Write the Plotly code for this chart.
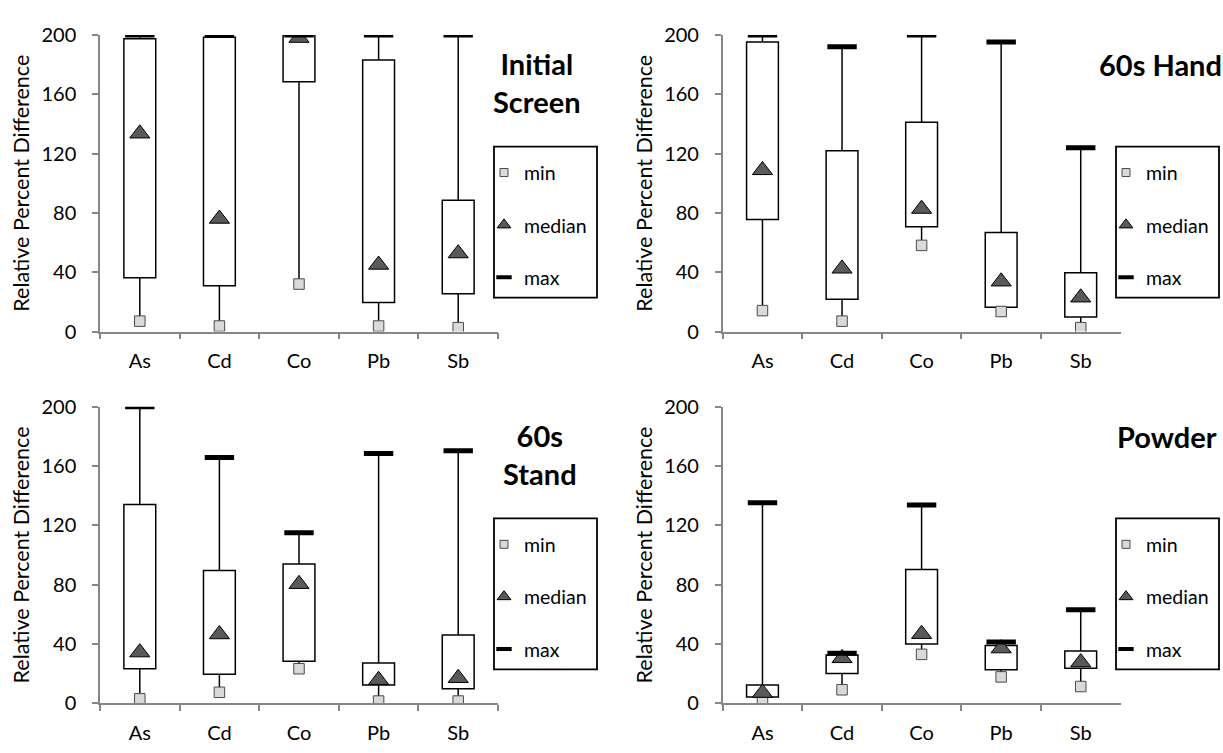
import plotly.graph_objects as go
from plotly.subplots import make_subplots

categories = ["As", "Cd", "Co", "Pb", "Sb"]
y_tick_vals = [0, 40, 80, 120, 160, 200]

panel_titles = ["Initial<br>Screen", "60s Hand", "60s<br>Stand", "Powder"]

initial_min = [7.0, 3.7, 32.0, 3.7, 2.6]
initial_q1 = [36.3, 30.9, 168.4, 19.6, 25.5]
initial_med = [133.5, 76.0, 198.0, 45.0, 52.7]
initial_q3 = [197.4, 198.5, 200.0, 183.2, 88.6]
initial_max = [200.0, 200.0, 200.0, 200.0, 200.0]

hand_min = [14.1, 7.0, 58.1, 13.5, 2.6]
hand_q1 = [75.5, 21.8, 70.7, 16.3, 9.8]
hand_med = [108.8, 42.4, 82.7, 33.7, 22.9]
hand_q3 = [195.2, 121.9, 141.2, 66.8, 39.6]
hand_max = [200.0, 192.0, 200.0, 195.2, 124.0]

stand_min = [3.0, 7.4, 23.3, 1.5, 1.5]
stand_q1 = [23.3, 19.6, 28.3, 12.4, 9.8]
stand_med = [34.3, 46.5, 80.4, 15.7, 17.0]
stand_q3 = [134.1, 89.6, 93.9, 27.2, 46.1]
stand_max = [200.0, 165.7, 115.0, 168.5, 170.4]

powder_min = [0.5, 9.1, 33.0, 17.8, 11.3]
powder_q1 = [4.3, 20.0, 40.0, 22.6, 23.7]
powder_med = [7.0, 30.4, 46.7, 37.0, 27.6]
powder_q3 = [12.4, 32.6, 90.2, 38.9, 35.2]
powder_max = [135.2, 33.7, 133.7, 41.3, 63.0]

panels = [
    (initial_min, initial_q1, initial_med, initial_q3, initial_max),
    (hand_min, hand_q1, hand_med, hand_q3, hand_max),
    (stand_min, stand_q1, stand_med, stand_q3, stand_max),
    (powder_min, powder_q1, powder_med, powder_q3, powder_max),
]

W, H = 1223, 753
FONT = "Lato"
AXIS_COLOR = "#868686"
MIN_FILL = "#d9d9d9"
MED_FILL = "#5a5a5a"

# pixel layout (left, right, top, bottom) of each plot area
plot_px = [
    (100, 498, 22.7, 329),
    (722.7, 1120.5, 22.7, 329),
    (100, 498, 406.7, 713),
    (722.7, 1120.5, 406.7, 713),
]
legend_box_px = [
    (494, 597, 138, 294),
    (1116, 1219, 138, 294),
    (494, 597, 522, 678),
    (1116, 1219, 522, 678),
]
title_px = [(537, 72), (1160, 53), (540, 456), (1167, 437)]

fig = make_subplots(rows=2, cols=2)

def px_x(v):
    return v / W

def px_y(v):
    return 1 - v / H

for i, (mn, q1, md, q3, mx) in enumerate(panels):
    r, c = i // 2 + 1, i % 2 + 1
    leg = "legend" if i == 0 else f"legend{i + 1}"
    # whiskers
    wx, wy = [], []
    for k, cat in enumerate(categories):
        wx += [cat, cat, None, cat, cat, None]
        wy += [mn[k], q1[k], None, q3[k], mx[k], None]
    fig.add_trace(go.Scatter(x=wx, y=wy, mode="lines", line=dict(color="black", width=1.5),
                             showlegend=False, hoverinfo="skip"), row=r, col=c)
    # boxes
    fig.add_trace(go.Bar(x=categories, y=[b - a for a, b in zip(q1, q3)], base=q1, width=0.4,
                         marker=dict(color="white", line=dict(color="black", width=1.5)),
                         showlegend=False), row=r, col=c)
    # markers
    fig.add_trace(go.Scatter(x=categories, y=mn, mode="markers", name="min",
                             marker=dict(symbol="square", size=10.5, color=MIN_FILL,
                                         line=dict(color="#4a4a4a", width=1)),
                             showlegend=False), row=r, col=c)
    fig.add_trace(go.Scatter(x=categories, y=md, mode="markers", name="median",
                             marker=dict(symbol="triangle-up", size=17.5, color=MED_FILL,
                                         line=dict(color="black", width=1)),
                             showlegend=False), row=r, col=c)
    fig.add_trace(go.Scatter(x=categories, y=mx, mode="markers", name="max",
                             marker=dict(symbol="line-ew", size=21,
                                         line=dict(color="black", width=5)),
                             showlegend=False), row=r, col=c)
    # legend entries
    fig.add_trace(go.Scatter(x=[None], y=[None], mode="markers", name="min", legend=leg,
                             legendgroup=f"min{i}",
                             marker=dict(symbol="square", size=8, color=MIN_FILL,
                                         line=dict(color="#4a4a4a", width=1))), row=r, col=c)
    fig.add_trace(go.Scatter(x=[None], y=[None], mode="markers", name="median", legend=leg,
                             legendgroup=f"med{i}",
                             marker=dict(symbol="triangle-up", size=12, color=MED_FILL,
                                         line=dict(color="black", width=1))), row=r, col=c)
    fig.add_trace(go.Scatter(x=[None], y=[None], mode="markers", name="max", legend=leg,
                             legendgroup=f"max{i}",
                             marker=dict(symbol="line-ew", size=11,
                                         line=dict(color="black", width=4))), row=r, col=c)

    xl, xr, yt, yb = plot_px[i]
    suffix = "" if i == 0 else str(i + 1)
    fig.layout["xaxis" + suffix].update(
        domain=[px_x(xl), px_x(xr)], type="category", categoryorder="array",
        categoryarray=categories, range=[-0.5, 4.5], tickson="boundaries",
        ticks="outside", ticklen=6, tickwidth=1.5, tickcolor=AXIS_COLOR,
        showline=True, linecolor=AXIS_COLOR, linewidth=1.5, showgrid=False,
        tickfont=dict(family=FONT, size=20, color="black"), ticklabelstandoff=11,
    )
    fig.layout["yaxis" + suffix].update(
        domain=[px_y(yb), px_y(yt)], range=[0, 200], tickvals=y_tick_vals,
        ticks="outside", ticklen=6, tickwidth=1.5, tickcolor=AXIS_COLOR,
        showline=True, linecolor=AXIS_COLOR, linewidth=1.5, showgrid=False, zeroline=False,
        tickfont=dict(family=FONT, size=20, color="black"), ticklabelstandoff=12,
        title=dict(text="Relative Percent Difference", font=dict(family=FONT, size=21.5, color="black"),
                   standoff=6),
    )

    bl, br, bt, bb = legend_box_px[i]
    fig.add_shape(type="rect", xref="paper", yref="paper", x0=px_x(bl), x1=px_x(br),
                  y0=px_y(bb), y1=px_y(bt), line=dict(color="black", width=1.8),
                  fillcolor="white", layer="below")
    fig.layout[leg] = dict(
        x=px_x(bl - 10), y=px_y(bt + 7), xanchor="left", yanchor="top",
        bgcolor="rgba(0,0,0,0)", borderwidth=0, traceorder="grouped",
        tracegroupgap=24, font=dict(family=FONT, size=19.5, color="black"),
    )
    tx, ty = title_px[i]
    fig.add_annotation(text=panel_titles[i], x=px_x(tx), y=px_y(ty), xref="paper", yref="paper",
                       xanchor="center", yanchor="middle", showarrow=False, align="center",
                       font=dict(family=FONT, size=29, color="black", weight="bold"))

fig.update_layout(
    width=W, height=H, margin=dict(l=0, r=0, t=0, b=0),
    paper_bgcolor="white", plot_bgcolor="white", barmode="overlay",
    font=dict(family=FONT, color="black"),
)

fig.write_html(
    "out.html",
    config={"displayModeBar": False},
    post_script="document.body.style.margin='0px';document.body.style.overflow='hidden';",
)
